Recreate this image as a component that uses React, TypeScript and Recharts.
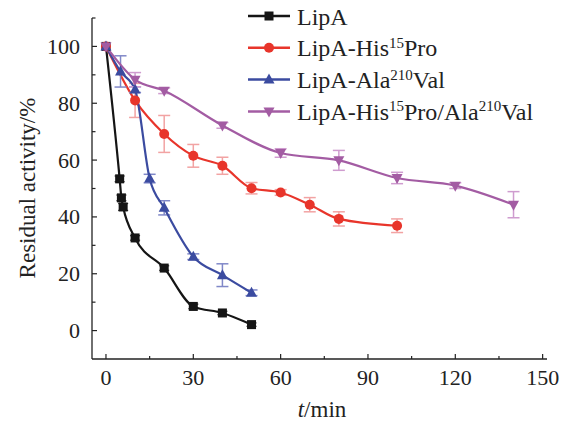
import React from 'react';
import { LineChart, Line, XAxis, YAxis, ErrorBar, Legend } from 'recharts';

const lipaT = [0, 4.7, 5.3, 5.9, 10, 20, 30, 40, 50];
const lipaV = [100, 53.4, 46.7, 43.5, 32.6, 22.0, 8.5, 6.2, 2.1];
const lipaE = [0, 1, 1, 1.2, 0.8, 0.8, 0.8, 0.6, 0.6];

const hisT = [0, 10, 20, 30, 40, 50, 60, 70, 80, 100];
const hisV = [100, 81, 69.2, 61.5, 58, 50.1, 48.6, 44.3, 39.3, 36.9];
const hisE = [0, 6, 6.5, 4, 3, 2, 1, 2.5, 2.5, 2.4];

const alaT = [0, 5, 10, 15, 20, 30, 40, 50];
const alaV = [100, 91.2, 84.8, 53.5, 43.2, 26, 19.5, 13.3];
const alaE = [0, 5.5, 1, 1.5, 2.5, 1, 4, 1];

const dblT = [0, 10, 20, 40, 60, 80, 100, 120, 140];
const dblV = [100, 88.3, 84.4, 72.2, 62.5, 59.9, 53.7, 51, 44.3];
const dblE = [0, 2.5, 1, 1, 1.5, 3.5, 2, 1, 4.6];

const xTicks = [0, 15, 30, 45, 60, 75, 90, 105, 120, 135, 150];
const yTicks = [0, 10, 20, 30, 40, 50, 60, 70, 80, 90, 100, 110];

const build = (t: number[], v: number[], e: number[]) =>
  t.map((tt, i) => ({ t: tt, v: v[i], e: e[i] }));

const lipaData = build(lipaT, lipaV, lipaE);
const hisData = build(hisT, hisV, hisE);
const alaData = build(alaT, alaV, alaE);
const dblData = build(dblT, dblV, dblE);

const FONT = 'Liberation Serif';
const TS: React.CSSProperties = { fontFamily: "'Liberation Serif', 'Times New Roman', Times" };
const INK = '#222';

const C = {
  black: '#151515',
  red: '#e8352b',
  blue: '#3b4ba0',
  purple: '#a35ca3',
};
const CE = {
  black: '#333333',
  red: '#f2a3a3',
  blue: '#8088c8',
  purple: '#cf9ccf',
};

type Shape = 'square' | 'circle' | 'up' | 'down';

const Marker = ({ cx, cy, shape, color }: { cx: number; cy: number; shape: Shape; color: string }) => {
  if (cx == null || cy == null) return null;
  if (shape === 'square') return <rect x={cx - 4.5} y={cy - 4.5} width={9} height={9} fill={color} />;
  if (shape === 'circle') return <circle cx={cx} cy={cy} r={5} fill={color} />;
  if (shape === 'up')
    return <polygon points={`${cx},${cy - 6} ${cx - 5.5},${cy + 4} ${cx + 5.5},${cy + 4}`} fill={color} />;
  return <polygon points={`${cx},${cy + 6} ${cx - 5.5},${cy - 4} ${cx + 5.5},${cy - 4}`} fill={color} />;
};

const dotFn = (shape: Shape, color: string) => (p: any) => (
  <Marker key={`${shape}-${p.index}`} cx={p.cx} cy={p.cy} shape={shape} color={color} />
);

const XTick = (props: any) => {
  const { x, y, payload } = props;
  const major = payload.value % 30 === 0;
  return (
    <g>
      <line x1={x} x2={x} y1={y} y2={y - (major ? 5 : 3)} stroke={INK} strokeWidth={1.2} />
      {major && (
        <text x={x} y={y + 26} textAnchor="middle" fontSize={22} fontFamily={FONT} style={TS} fill={INK}>
          {payload.value}
        </text>
      )}
    </g>
  );
};

const YTick = (props: any) => {
  const { x, y, payload } = props;
  const major = payload.value % 20 === 0 && payload.value <= 100;
  return (
    <g>
      <line x1={x} x2={x + (major ? 5 : 3.5)} y1={y} y2={y} stroke={INK} strokeWidth={1.2} />
      {major && (
        <text x={x - 12} y={y + 7.5} textAnchor="end" fontSize={22} fontFamily={FONT} style={TS} fill={INK}>
          {payload.value}
        </text>
      )}
    </g>
  );
};

const legendItems: { shape: Shape; color: string; parts: [string, boolean][] }[] = [
  { shape: 'square', color: C.black, parts: [['LipA', false]] },
  { shape: 'circle', color: C.red, parts: [['LipA-His', false], ['15', true], ['Pro', false]] },
  { shape: 'up', color: C.blue, parts: [['LipA-Ala', false], ['210', true], ['Val', false]] },
  {
    shape: 'down',
    color: C.purple,
    parts: [['LipA-His', false], ['15', true], ['Pro/Ala', false], ['210', true], ['Val', false]],
  },
];

const LegendContent = () => (
  <svg width={323} height={130} style={{ display: 'block' }}>
    {legendItems.map((it, i) => {
      const y = 16 + i * 31.8;
      return (
        <g key={i}>
          <line x1={8} x2={50} y1={y} y2={y} stroke={it.color} strokeWidth={2.5} />
          <Marker cx={29} cy={y} shape={it.shape} color={it.color} />
          <text x={57} y={y + 8.5} fontSize={24} fontFamily={FONT} style={TS} fill={INK}>
            {it.parts.map(([s, sup], j) => {
              const prevSup = j > 0 && it.parts[j - 1][1];
              const dy = sup ? -8.5 : prevSup ? 8.5 : 0;
              return (
                <tspan key={j} fontSize={sup ? 15 : 24} dy={dy}>
                  {s}
                </tspan>
              );
            })}
          </text>
        </g>
      );
    })}
  </svg>
);

export default function App() {
  return (
    <div style={{ position: 'absolute', left: 0, top: 0, background: '#fff' }}>
      <LineChart width={563} height={421} margin={{ top: 18, right: 16, bottom: 22, left: 22 }}>
        <XAxis
          dataKey="t"
          type="number"
          domain={[-4.8, 151.5]}
          ticks={xTicks}
          interval={0}
          allowDataOverflow
          tickSize={0}
          tickMargin={0}
          tickLine={false}
          tick={<XTick />}
          height={40}
          stroke={INK}
          strokeWidth={1.3}
          label={{
            content: () => (
              <text x={322} y={417} textAnchor="middle" fontSize={23} fontFamily={FONT} style={TS} fill={INK}>
                <tspan fontStyle="italic">t</tspan>
                <tspan>/min</tspan>
              </text>
            ),
          }}
        />
        <YAxis
          dataKey="v"
          type="number"
          domain={[-10, 110]}
          ticks={yTicks}
          interval={0}
          allowDataOverflow
          tickSize={0}
          tickMargin={0}
          tickLine={false}
          tick={<YTick />}
          width={70}
          stroke={INK}
          strokeWidth={1.3}
          label={{
            content: () => (
              <text
                x={27}
                y={188}
                transform="rotate(-90 27 188)"
                textAnchor="middle"
                dominantBaseline="central"
                fontSize={23}
                fontFamily={FONT}
                style={TS}
                fill={INK}
              >
                Residual activity/%
              </text>
            ),
          }}
        />
        <Legend
          layout="horizontal"
          verticalAlign="middle"
          align="center"
          content={<LegendContent />}
          wrapperStyle={{ left: 240, top: 0, width: 323, height: 130 }}
        />
        <Line
          data={lipaData}
          dataKey="v"
          type="monotone"
          stroke={C.black}
          strokeWidth={2.2}
          dot={dotFn('square', C.black)}
          activeDot={false}
          isAnimationActive={false}
        >
          <ErrorBar dataKey="e" direction="y" width={5} stroke={CE.black} strokeWidth={1.2} />
        </Line>
        <Line
          data={hisData}
          dataKey="v"
          type="monotone"
          stroke={C.red}
          strokeWidth={2.2}
          dot={dotFn('circle', C.red)}
          activeDot={false}
          isAnimationActive={false}
        >
          <ErrorBar dataKey="e" direction="y" width={6} stroke={CE.red} strokeWidth={1.5} />
        </Line>
        <Line
          data={alaData}
          dataKey="v"
          type="monotone"
          stroke={C.blue}
          strokeWidth={2.2}
          dot={dotFn('up', C.blue)}
          activeDot={false}
          isAnimationActive={false}
        >
          <ErrorBar dataKey="e" direction="y" width={6} stroke={CE.blue} strokeWidth={1.5} />
        </Line>
        <Line
          data={dblData}
          dataKey="v"
          type="monotone"
          stroke={C.purple}
          strokeWidth={2.2}
          dot={dotFn('down', C.purple)}
          activeDot={false}
          isAnimationActive={false}
        >
          <ErrorBar dataKey="e" direction="y" width={6} stroke={CE.purple} strokeWidth={1.5} />
        </Line>
      </LineChart>
    </div>
  );
}
